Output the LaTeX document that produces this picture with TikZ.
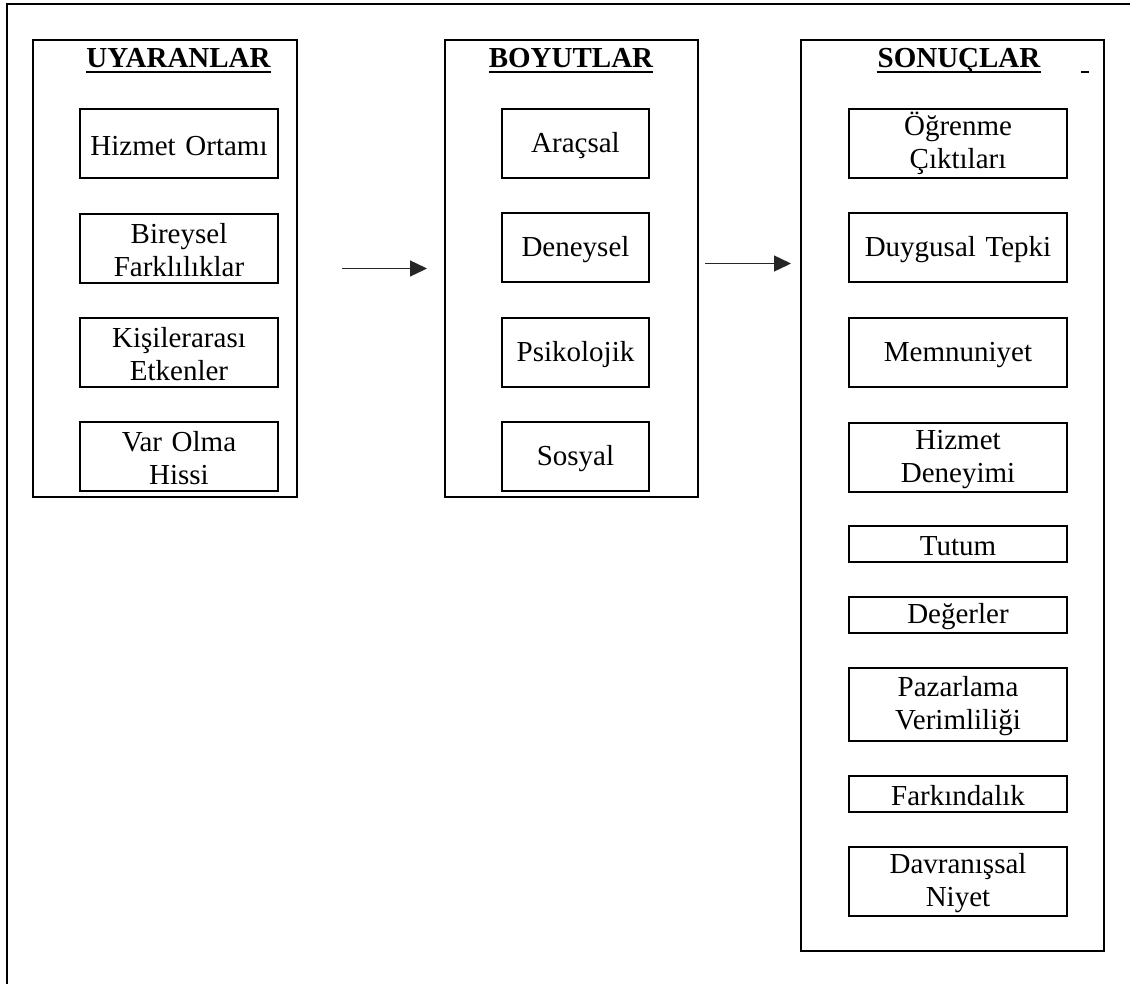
\documentclass[tikz,border=0pt]{standalone}
\usepackage{fontspec}
\setmainfont{Liberation Serif}
\usetikzlibrary{arrows.meta}

\begin{document}
\begin{tikzpicture}[x=1pt, y=-1pt,
        font=\fontsize{29}{33}\selectfont,
        column/.style = {rectangle, draw,
            line width=2pt,
            inner sep=0pt},
        item/.style = {rectangle, draw,
            line width=2pt,
            inner sep=0pt,
            align=center,
            text height=24pt,
            minimum height=69pt},
        leftItem/.style = {item, text width=198pt},
        midItem/.style = {item, text width=147pt},
        rightItem/.style = {item, text width=218pt},
        thinItem/.style = {rightItem, minimum height=36pt},
        heading/.style = {inner sep=0pt, anchor=base,
            font=\fontsize{29}{33}\selectfont\bfseries},
        headLine/.style = {line width=2pt},
        flow/.style = {-{Triangle[length=17pt, width=16pt]},
            line width=1.4pt, black!85}]

        \useasboundingbox (0,0) rectangle (1134,983);

        % Page frame
        \draw[line width=2pt] (1130,4) -- (7,4) -- (7,990);

        % Columns
        \node[column, minimum width=264pt, minimum height=457pt] (uyaran) at (165,268.5) {};
        \node[column, minimum width=253pt, minimum height=457pt] (boyut) at (571.5,268.5) {};
        \node[column, minimum width=303pt, minimum height=911pt] (sonuc) at (952.5,495.5) {};

        % Headings
        \node[heading] (uyaranBaslik) at (178.5,67) {UYARANLAR};
        \draw[headLine] ([yshift=-4.5pt]uyaranBaslik.base west) -- ([yshift=-4.5pt]uyaranBaslik.base east);
        \node[heading] (boyutBaslik) at (571,67) {BOYUTLAR};
        \draw[headLine] ([yshift=-4.5pt]boyutBaslik.base west) -- ([yshift=-4.5pt]boyutBaslik.base east);
        \node[heading] (sonucBaslik) at (959,67) {SONUÇLAR};
        \draw[headLine] ([yshift=-4.5pt]sonucBaslik.base west) -- ([yshift=-4.5pt]sonucBaslik.base east);
        \draw[headLine] (1081,72) -- (1089,72);

        % Uyaranlar
        \node[leftItem] (ortam) at (179,143.5) {Hizmet Ortamı};
        \node[leftItem] (fark) at (179,248) {Bireysel\\Farklılıklar};
        \node[leftItem] (kisiler) at (179,352.5) {Kişilerarası\\Etkenler};
        \node[leftItem] (varolma) at (179,456) {Var Olma\\Hissi};

        % Boyutlar
        \node[midItem] (aracsal) at (575.5,143.5) {Araçsal};
        \node[midItem] (deneysel) at (575.5,247.5) {Deneysel};
        \node[midItem] (psiko) at (575.5,352.5) {Psikolojik};
        \node[midItem] (sosyal) at (575.5,456.5) {Sosyal};

        % Sonuclar
        \node[rightItem] (ogrenme) at (958,143.5) {Öğrenme\\Çıktıları};
        \node[rightItem] (duygu) at (958,247.5) {Duygusal Tepki};
        \node[rightItem] (memnun) at (958,352.5) {Memnuniyet};
        \node[rightItem] (deneyim) at (958,457) {Hizmet\\Deneyimi};
        \node[thinItem] (tutum) at (958,544) {Tutum};
        \node[thinItem] (deger) at (958,615) {Değerler};
        \node[rightItem, minimum height=73pt] (pazar) at (958,704.5) {Pazarlama\\Verimliliği};
        \node[thinItem] (farkinda) at (958,794) {Farkındalık};
        \node[rightItem] (niyet) at (958,881.5) {Davranışsal\\Niyet};

        % Arrows between columns
        \coordinate (ok2) at (boyut.east -| sonuc.west);
        \draw[flow] ([xshift=44pt]uyaran.east) -- ([xshift=-17pt]boyut.west);
        \draw[flow] ([xshift=6pt,yshift=5pt]boyut.east) -- ([xshift=-9pt,yshift=5pt]ok2);
    \end{tikzpicture}
\end{document}
